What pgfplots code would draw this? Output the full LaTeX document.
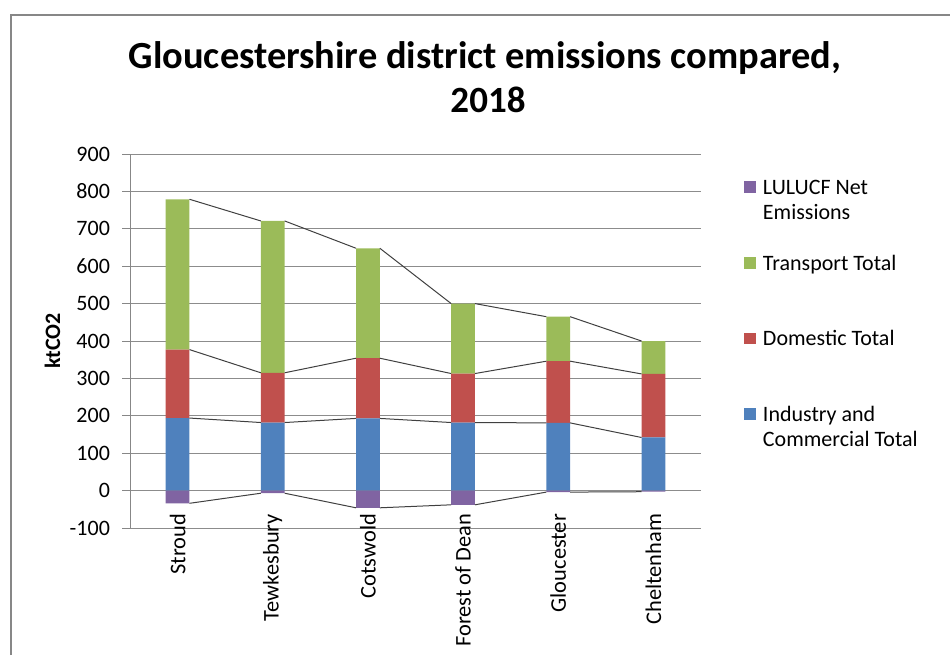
\documentclass[border=0pt]{standalone}
\usepackage{pgfplots}
\pgfplotsset{compat=1.18}
\usepackage{pgfplotstable}
\usepackage{fontspec}
\setmainfont{Carlito}
\definecolor{cInd}{HTML}{4F81BD}
\definecolor{cDom}{HTML}{C0504D}
\definecolor{cTra}{HTML}{9BBB59}
\definecolor{cLul}{HTML}{8064A2}
\definecolor{cGrid}{HTML}{8C8C8C}
\definecolor{cFrame}{HTML}{878787}
\newcommand\f{\fontsize{11pt}{12.6pt}\selectfont}
\newcommand\fx{\fontsize{11.2pt}{13pt}\selectfont}
\newcommand\legtxt[1]{\parbox[t]{110pt}{\raggedright\strut #1}}

\pgfplotstableread{
x ind dom tra lul
0 194 183 402 -34
1 182 133 406 -7
2 193 161 294 -46
3 182 131 187 -38
4 181 165 119 -4
5 142 170 88 -3
}\data

\begin{document}
\begin{tikzpicture}
\path[use as bounding box] (0,0) rectangle (475pt,327.5pt);
\draw[cFrame, line width=1pt] (5.5pt,0) -- (5.5pt,320pt) -- (475pt,320pt);
\node[anchor=base, font=\fontsize{19.2pt}{22pt}\selectfont\bfseries] at (242.5pt,293pt) {Gloucestershire district emissions compared,};
\node[anchor=base, font=\fontsize{18.5pt}{22pt}\selectfont\bfseries] at (244pt,271pt) {2018};

\begin{axis}[
  at={(65pt,63.5pt)}, anchor=south west,
  width=285.5pt, height=187pt, scale only axis,
  xmin=-0.5, xmax=5.5, ymin=-100, ymax=900,
  ybar stacked, bar width=0.25,
  ytick distance=100,
  xtick={0,...,5},
  xticklabels={Stroud,Tewkesbury,Cotswold,Forest of Dean,Gloucester,Cheltenham},
  /pgf/number format/assume math mode=true,
  axis lines*=left, axis line style={-},
  x axis line style={draw=none},
  y axis line style={draw=cFrame, line width=0.5pt},
  xtick style={draw=none},
  ytick style={draw=cFrame, line width=0.5pt},
  tick align=outside, major tick length=4pt,
  ymajorgrids, grid style={draw=cGrid, line width=0.5pt},
  yticklabel style={font=\f, xshift=-2.5pt},
  xticklabel style={font=\fx, rotate=90, anchor=east},
  xticklabel shift=-14.5pt,
  ylabel={ktCO2},
  ylabel style={font=\f\bfseries, at={(axis description cs:-0.1357,0.5)}, anchor=center},
  reverse legend,
  legend cell align=left,
  legend style={draw=none, fill=none, font=\f,
    at={(axis description cs:1.0753,0.9505)}, anchor=north west,
    inner sep=0pt, row sep=23.5pt,
    /tikz/every odd column/.append style={column sep=1.5pt}},
  legend image code/.code={\fill[#1] (0pt,-2.9pt) rectangle (5.8pt,2.9pt);},
]
\addplot[fill=cInd, draw=none] table[x=x, y=ind] {\data};
\addlegendentry{\legtxt{Industry and\\Commercial Total}}
\addplot[fill=cDom, draw=none] table[x=x, y=dom] {\data};
\addlegendentry{\legtxt{Domestic Total}}
\addplot[fill=cTra, draw=none] table[x=x, y=tra] {\data};
\addlegendentry{\legtxt{Transport Total}}
\addlegendimage{fill=cLul, draw=none}
\addlegendentry{\legtxt{LULUCF Net\\Emissions}}
\end{axis}

\begin{axis}[
  at={(65pt,63.5pt)}, anchor=south west,
  width=285.5pt, height=187pt, scale only axis,
  xmin=-0.5, xmax=5.5, ymin=-100, ymax=900,
  hide axis, unbounded coords=jump,
]
\addplot[ybar, bar width=0.25, fill=cLul, draw=none] table[x=x, y=lul] {\data};
% series lines (Excel style, bar edge to bar edge)
\addplot[black!75, line width=0.5pt] coordinates {
 (0.125,194) (0.875,182) (1,nan) (1.125,182) (1.875,193) (2,nan)
 (2.125,193) (2.875,182) (3,nan) (3.125,182) (3.875,181) (4,nan)
 (4.125,181) (4.875,142)};
\addplot[black!75, line width=0.5pt] coordinates {
 (0.125,377) (0.875,315) (1,nan) (1.125,315) (1.875,354) (2,nan)
 (2.125,354) (2.875,313) (3,nan) (3.125,313) (3.875,346) (4,nan)
 (4.125,346) (4.875,312)};
\addplot[black!75, line width=0.5pt] coordinates {
 (0.125,779) (0.875,721) (1,nan) (1.125,721) (1.875,648) (2,nan)
 (2.125,648) (2.875,500) (3,nan) (3.125,500) (3.875,465) (4,nan)
 (4.125,465) (4.875,400)};
\addplot[black!75, line width=0.5pt] coordinates {
 (0.125,-34) (0.875,-7) (1,nan) (1.125,-7) (1.875,-46) (2,nan)
 (2.125,-46) (2.875,-38) (3,nan) (3.125,-38) (3.875,-4) (4,nan)
 (4.125,-4) (4.875,-3)};
\end{axis}
\end{tikzpicture}
\end{document}
